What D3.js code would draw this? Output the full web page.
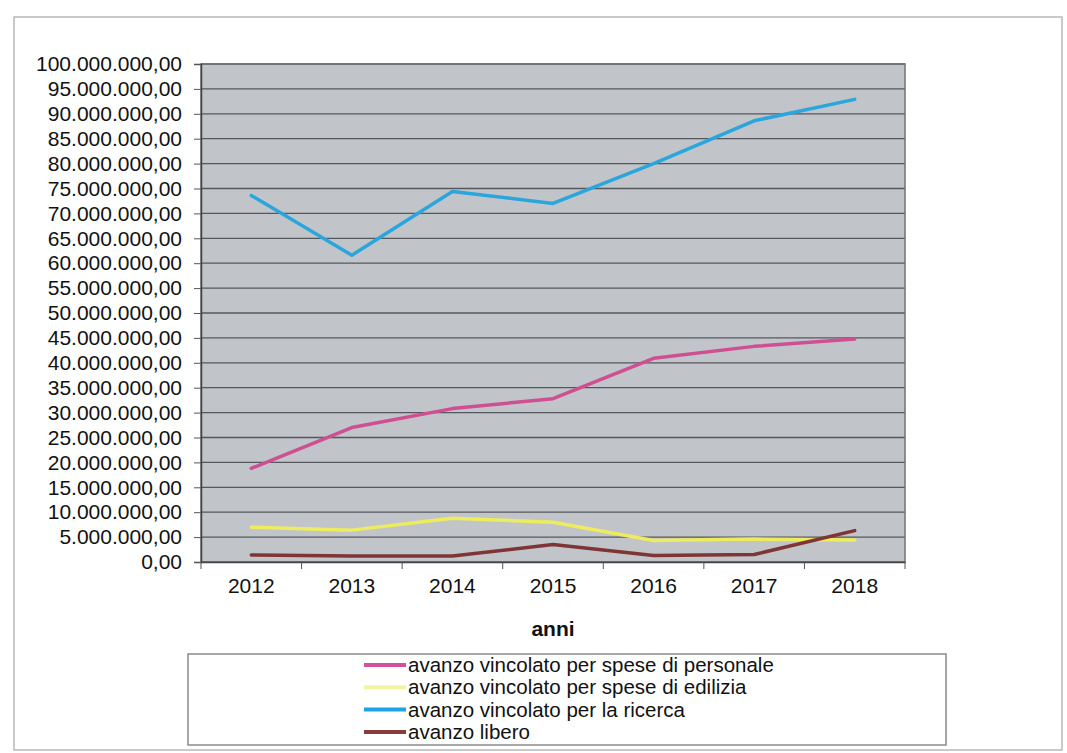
<!DOCTYPE html>
<html>
<head>
<meta charset="utf-8">
<script src="https://cdn.jsdelivr.net/npm/d3@7"></script>
<style>
  html, body { margin: 0; padding: 0; background: #ffffff; }
  svg { display: block; font-family: "Liberation Sans", Arial, sans-serif; }
</style>
</head>
<body>
<svg id="chart" width="1067" height="753"></svg>
<script>
const years = ["2012", "2013", "2014", "2015", "2016", "2017", "2018"];
const personale = [18800000, 27000000, 30800000, 32800000, 40900000, 43300000, 44800000];
const edilizia  = [7000000, 6400000, 8800000, 8000000, 4300000, 4600000, 4400000];
const ricerca   = [73600000, 61600000, 74400000, 72000000, 80000000, 88600000, 92900000];
const libero    = [1400000, 1200000, 1200000, 3500000, 1300000, 1500000, 6300000];
const yTicks = [0, 5e6, 10e6, 15e6, 20e6, 25e6, 30e6, 35e6, 40e6, 45e6, 50e6, 55e6, 60e6, 65e6, 70e6, 75e6, 80e6, 85e6, 90e6, 95e6, 100e6];
const seriesNames = [
  "avanzo vincolato per spese di personale",
  "avanzo vincolato per spese di edilizia",
  "avanzo vincolato per la ricerca",
  "avanzo libero"
];
const seriesColors = ["#cf4f93", "#ecec5c", "#2ba6dc", "#7f3535"];
const legendColors = ["#d4509c", "#f4f4a0", "#1ea3e3", "#8a3c3c"];
const xTitle = "anni";

const series = [personale, edilizia, ricerca, libero];

const svg = d3.select("#chart");
const plot = { left: 201, right: 905, top: 64, bottom: 562 };

// outer frame
svg.append("rect")
  .attr("x", 14).attr("y", 17).attr("width", 1048).attr("height", 733)
  .attr("fill", "none").attr("stroke", "#b8b8b8").attr("stroke-width", 1.5);

const x = d3.scaleBand().domain(years).range([plot.left, plot.right]).paddingInner(0).paddingOuter(0);
const y = d3.scaleLinear().domain([0, 100e6]).range([plot.bottom, plot.top]);

// plot background
svg.append("rect")
  .attr("x", plot.left).attr("y", plot.top)
  .attr("width", plot.right - plot.left).attr("height", plot.bottom - plot.top)
  .attr("fill", "#c1c5ca");

// gridlines
svg.append("g")
  .selectAll("line")
  .data(yTicks)
  .join("line")
  .attr("x1", plot.left).attr("x2", plot.right)
  .attr("y1", d => y(d)).attr("y2", d => y(d))
  .attr("stroke", "#54575b").attr("stroke-width", 1.3);

// plot border
svg.append("rect")
  .attr("x", plot.left).attr("y", plot.top)
  .attr("width", plot.right - plot.left).attr("height", plot.bottom - plot.top)
  .attr("fill", "none").attr("stroke", "#6f7377").attr("stroke-width", 1.5);

const fmt = v => {
  const s = d3.format(",.2f")(v);
  return s.replace(/,/g, "#").replace(".", ",").replace(/#/g, ".");
};

// y axis
const yAxis = d3.axisLeft(y).tickValues(yTicks).tickFormat(fmt).tickSize(7).tickPadding(12);
const gy = svg.append("g").attr("transform", `translate(${plot.left},0)`).call(yAxis);
gy.select(".domain").attr("stroke", "#444").attr("stroke-width", 1.5);
gy.selectAll(".tick line").attr("stroke", "#555");
gy.selectAll(".tick text").attr("font-size", 21).attr("fill", "#111")
  .attr("font-family", "Liberation Sans, Arial, sans-serif");

// x axis
const xAxis = d3.axisBottom(x).tickSize(0).tickPadding(16);
const gx = svg.append("g").attr("transform", `translate(0,${plot.bottom})`).call(xAxis);
gx.select(".domain").attr("stroke", "#444").attr("stroke-width", 1.5);
gx.selectAll(".tick text").attr("font-size", 21).attr("fill", "#111")
  .attr("font-family", "Liberation Sans, Arial, sans-serif");
// category boundary tick marks
svg.append("g").selectAll("line")
  .data(years.slice(1).concat(["end"]))
  .join("line")
  .attr("x1", (d, i) => x(years[0]) + x.step() * (i + 1))
  .attr("x2", (d, i) => x(years[0]) + x.step() * (i + 1))
  .attr("y1", plot.bottom).attr("y2", plot.bottom + 7)
  .attr("stroke", "#555").attr("stroke-width", 1);
svg.append("line")
  .attr("x1", plot.left).attr("x2", plot.left)
  .attr("y1", plot.bottom).attr("y2", plot.bottom + 7)
  .attr("stroke", "#555");

// x title
svg.append("text")
  .attr("x", (plot.left + plot.right) / 2).attr("y", 636)
  .attr("text-anchor", "middle").attr("font-size", 21).attr("font-weight", "bold")
  .attr("fill", "#111").text(xTitle);

// lines
const line = d3.line()
  .x((d, i) => x(years[i]) + x.bandwidth() / 2)
  .y(d => y(d));

svg.append("g").selectAll("path")
  .data(series)
  .join("path")
  .attr("d", d => line(d))
  .attr("fill", "none")
  .attr("stroke", (d, i) => seriesColors[i])
  .attr("stroke-width", 3.5)
  .attr("stroke-linejoin", "round")
  .attr("stroke-linecap", "round");

// legend
const lg = svg.append("g");
lg.append("rect")
  .attr("x", 188).attr("y", 654).attr("width", 758).attr("height", 91)
  .attr("fill", "#fff").attr("stroke", "#8a8a8a").attr("stroke-width", 1.5);
const rows = lg.selectAll("g.row").data(seriesNames).join("g")
  .attr("class", "row")
  .attr("transform", (d, i) => `translate(0,${665 + i * 22.3})`);
rows.append("line")
  .attr("x1", 364).attr("x2", 406).attr("y1", 0).attr("y2", 0)
  .attr("stroke", (d, i) => legendColors[i]).attr("stroke-width", 4);
rows.append("text")
  .attr("x", 408).attr("y", 7)
  .attr("font-size", 20.5).attr("fill", "#111")
  .text(d => d);
</script>
</body>
</html>
